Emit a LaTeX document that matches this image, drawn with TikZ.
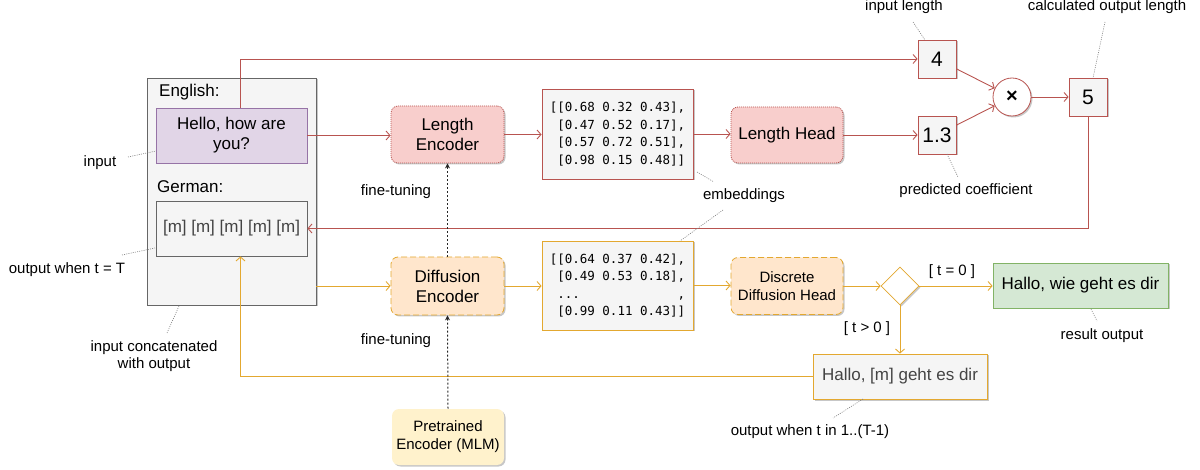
\documentclass[tikz,border=0pt]{standalone}
\usepackage{fontspec}
\setmainfont{Liberation Sans}
\newfontfamily\monofont{DejaVu Sans Mono}
\usetikzlibrary{arrows.meta,shapes.geometric,shadows}
\definecolor{redS}{HTML}{B85450}
\definecolor{redF}{HTML}{F8CECC}
\definecolor{gold}{RGB}{227,168,48}
\definecolor{orF}{HTML}{FFE6CC}
\definecolor{ylF}{HTML}{FFF2CC}
\definecolor{grF}{HTML}{F5F5F5}
\definecolor{grS}{HTML}{666666}
\definecolor{gnF}{HTML}{D5E8D4}
\definecolor{gnS}{HTML}{82B366}
\definecolor{puF}{HTML}{E1D5E7}
\definecolor{puS}{HTML}{9673A6}
\definecolor{txtG}{HTML}{444444}
\begin{document}
\begin{tikzpicture}[x=1pt,y=-1pt,
  shd/.style={drop shadow={shadow xshift=1.5pt,shadow yshift=-1.5pt,opacity=0.22,fill=black}},
  box/.style={draw, inner sep=2pt, align=center, line width=0.8pt, font=\fontsize{17}{20}\selectfont},
  small/.style={font=\fontsize{15}{18}\selectfont},
  lbl/.style={align=center, inner sep=1pt, font=\fontsize{15}{17.5}\selectfont},
  note/.style={draw=gray, line width=0.6pt, dash pattern=on 1pt off 1.2pt},
  tip/.style={-{Straight Barb[length=4pt,width=9pt]}},
  rl/.style={draw=redS, line width=0.9pt, tip},
  gl/.style={draw=gold, line width=0.9pt, tip},
  ft/.style={draw=black!85, line width=1pt, dash pattern=on 2pt off 2pt, -{Stealth[length=5pt,width=5pt]}},
  mono/.style={font=\monofont\fontsize{12.5}{17.5}\selectfont, align=left}
]
\useasboundingbox (0,0) rectangle (1200,470);

% left container
\node[box, fill=grF, draw=grS, minimum width=169pt, minimum height=227pt, shd] (outer) at (231.5,191.5) {};
\node[anchor=west, inner sep=0, font=\fontsize{17}{20}\selectfont] (eng) at (159,92) {English:};
\node[anchor=west, inner sep=0, font=\fontsize{17}{20}\selectfont] (ger) at (157,187) {German:};
\node[box, fill=puF, draw=puS, minimum width=151pt, minimum height=55pt] (hello) at (231.5,135.5) {Hello, how are\\you?};
\node[box, fill=grF, draw=grS, minimum width=151pt, minimum height=55pt, text=txtG] (mask) at (231.5,228.5) {[m] [m] [m] [m] [m]};

% length branch
\node[box, fill=redF, draw=redS, dash pattern=on 1pt off 1pt, rounded corners=7pt, minimum width=113pt, minimum height=57pt, shd] (le) at (447.5,134.5) {Length\\Encoder};
\node[box, fill=grF, draw=redS, minimum width=151pt, minimum height=90pt, mono, shd] (emb1) at (617.5,134) {[[0.68 0.32 0.43],\\\phantom{[}[0.47 0.52 0.17],\\\phantom{[}[0.57 0.72 0.51],\\\phantom{[}[0.98 0.15 0.48]]};
\node[box, fill=redF, draw=redS, dash pattern=on 1pt off 1pt, rounded corners=7pt, minimum width=112pt, minimum height=56pt, shd] (lh) at (787,135) {Length Head};
\node[box, fill=grF, draw=redS, minimum width=38pt, minimum height=38pt, font=\fontsize{21}{24}\selectfont, shd] (n4) at (937,59) {4};
\node[box, fill=grF, draw=redS, minimum width=38pt, minimum height=38pt, font=\fontsize{21}{24}\selectfont, shd] (n13) at (937,135) {1.3};
\node[circle, draw=redS, fill=white, line width=0.8pt, minimum size=38pt, inner sep=0, shd, font=\fontsize{20}{20}\selectfont\bfseries] (mul) at (1012,97) {×};
\node[box, fill=grF, draw=redS, minimum width=38pt, minimum height=38pt, font=\fontsize{21}{24}\selectfont, shd] (n5) at (1088,97) {5};

% diffusion branch
\node[box, fill=orF, draw=gold, dash pattern=on 6pt off 3pt, rounded corners=7pt, minimum width=113pt, minimum height=58pt, shd] (de) at (447.5,286) {Diffusion\\Encoder};
\node[box, fill=grF, draw=gold, minimum width=151pt, minimum height=89pt, mono, shd] (emb2) at (617.5,285.5) {[[0.64 0.37 0.42],\\\phantom{[}[0.49 0.53 0.18],\\\phantom{[}...\phantom{0000000000000},\\\phantom{[}[0.99 0.11 0.43]]};
\node[box, fill=orF, draw=gold, dash pattern=on 6pt off 3pt, rounded corners=7pt, minimum width=112pt, minimum height=57pt, small, shd] (dh) at (787,286) {Discrete\\Diffusion Head};
\node[diamond, draw=gold, fill=white, line width=0.8pt, minimum width=38pt, minimum height=38pt, inner sep=0, aspect=1, shd] (dia) at (900,286) {};
\node[box, fill=gnF, draw=gnS, minimum width=175pt, minimum height=45pt, shd] (green) at (1080.5,285.5) {Hallo, wie geht es dir};
\node[box, fill=grF, draw=gold, minimum width=174pt, minimum height=45pt, text=txtG, shd] (hm) at (900,376.5) {Hallo, [m] geht es dir};
\node[box, fill=ylF, draw=none, rounded corners=7pt, minimum width=112pt, minimum height=56pt, small, shd] (pre) at (448,437) {Pretrained\\Encoder (MLM)};

% red connectors
\draw[rl] ([xshift=9pt]hello.north) |- (n4.west);
\draw[rl] (hello.east) -- (hello.east -| le.west);
\draw[rl] (le.east) -- (le.east -| emb1.west);
\draw[rl] (emb1.east) -- (emb1.east -| lh.west);
\draw[rl] (lh.east) -- (lh.east -| n13.west);
\draw[rl] (n4) -- (mul);
\draw[rl] (n13) -- (mul);
\draw[rl] (mul) -- (n5);
\draw[rl] (n5.south) |- (mask.east);

% gold connectors
\draw[gl] (de.west -| outer.east) -- (de.west);
\draw[gl] (de.east) -- (de.east -| emb2.west);
\draw[gl] (emb2.east) -- (emb2.east -| dh.west);
\draw[gl] (dh.east) -- (dia.west);
\draw[gl] (dia.east) -- (dia.east -| green.west);
\draw[gl] (dia.south) -- (hm.north);
\draw[gl] (hm.west) -| ([xshift=9pt]mask.south);

% fine-tuning arrows
\draw[ft] (pre.north) -- (de.south);
\draw[ft] (de.north) -- (le.south);

% condition labels
\node[small] (c0) at (952,272) {[ t = 0 ]};
\node[small] (c1) at (867,329) {[ t > 0 ]};

% annotations
\node[lbl] (a1) at (100,163) {input};
\draw[note] (128,157) -- (156,151);
\node[lbl] (a2) at (67,270) {output when t = T};
\draw[note] (122,255) -- (155,248);
\node[lbl] (a3) at (154,356) {input concatenated\\with output};
\draw[note] (167,333) -- (179,306);
\node[lbl] (a4) at (396,192) {fine-tuning};
\node[lbl] (a5) at (396,341) {fine-tuning};
\node[lbl] (a6) at (744,196) {embeddings};
\draw[note] (697,172) -- (714,182);
\draw[note] (723,210) -- (680,241);
\node[lbl] (a7) at (904,7) {input length};
\draw[note] (913,22) -- (925,40);
\node[lbl] (a8) at (1107,7) {calculated output length};
\draw[note] (1105,22) -- (1093,78);
\node[lbl] (a9) at (966,191) {predicted coefficient};
\draw[note] (947,154) -- (958,177);
\node[lbl] (a10) at (1102,336) {result output};
\draw[note] (1091,309) -- (1097,321);
\node[lbl] (a11) at (810,432) {output when t in 1..(T-1)};
\draw[note] (863,399) -- (833,418);
\end{tikzpicture}
\end{document}
